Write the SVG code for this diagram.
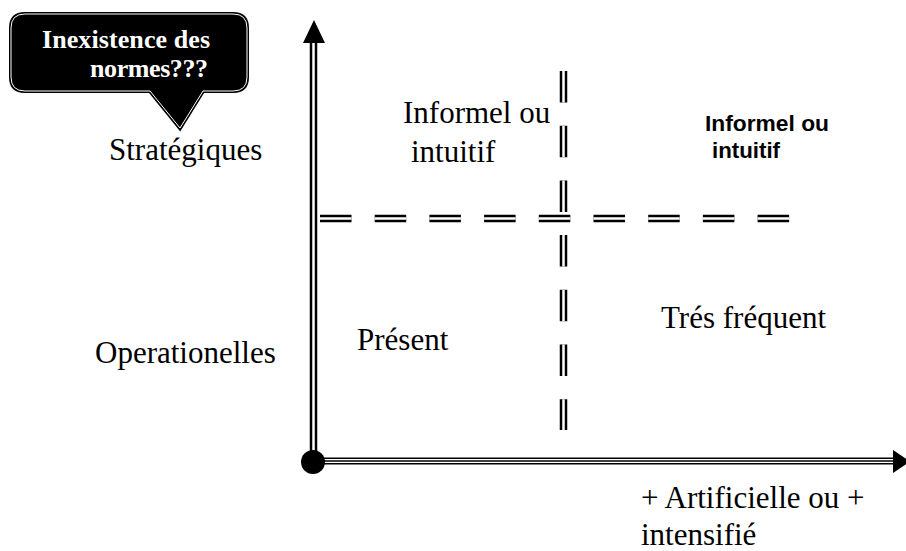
<svg xmlns="http://www.w3.org/2000/svg" width="906" height="551" viewBox="0 0 906 551">
<style>
.serif{font-family:"Liberation Serif","Times New Roman",serif;font-size:31px;fill:#000}
.callout{font-family:"Liberation Serif","Times New Roman",serif;font-size:26px;font-weight:bold;fill:#fff}
.sans{font-family:"Liberation Sans",Arial,sans-serif;font-size:22px;font-weight:bold;fill:#000}
.dblo{stroke:#000;stroke-width:7.5;fill:none}
.dbli{stroke:#fff;stroke-width:2.5;fill:none}
.dash{stroke-dasharray:31.5 23.2}
</style>
<rect width="906" height="551" fill="#fff"/>
<g id="callout">
<path d="M25,14 H233 Q247,14 247,28 V77 Q247,91 233,91 H203 L180,128 L150,91 H25 Q11,91 11,77 V28 Q11,14 25,14 Z" fill="#000" stroke="#000" stroke-width="4"/>
<path d="M25,14 H233 Q247,14 247,28 V77 Q247,91 233,91 H203 L180,128 L150,91 H25 Q11,91 11,77 V28 Q11,14 25,14 Z" fill="none" stroke="#fff" stroke-width="1"/>
<text class="callout" x="42" y="48" textLength="168" lengthAdjust="spacing">Inexistence des</text>
<text class="callout" x="90" y="77" textLength="118" lengthAdjust="spacing">normes???</text>
</g>
<g id="connectors">
<g id="dashes">
<line class="dblo dash" x1="320" y1="218.5" x2="790" y2="218.5"/>
<line class="dbli dash" x1="320" y1="218.5" x2="790" y2="218.5"/>
<line class="dblo dash" x1="563.5" y1="71" x2="563.5" y2="430"/>
<line class="dbli dash" x1="563.5" y1="71" x2="563.5" y2="430"/>
</g>
<g id="y-axis">
<line x1="313.5" y1="462" x2="313.5" y2="42" stroke="#000" stroke-width="7.5"/>
<line x1="313.5" y1="462" x2="313.5" y2="42" stroke="#fff" stroke-width="2.5"/>
<polygon points="303,43 325,43 314,20" fill="#000"/>
</g>
<g id="x-axis">
<line x1="313" y1="461" x2="894" y2="461" stroke="#000" stroke-width="7"/>
<line x1="313" y1="461" x2="894" y2="461" stroke="#fff" stroke-width="4.2"/>
<line x1="313" y1="461" x2="894" y2="461" stroke="#000" stroke-width="1.6"/>
<polygon points="893,450 893,473 910,461.5" fill="#000"/>
</g>
<circle id="origin" cx="313" cy="462" r="12" fill="#000"/>
</g>
<g id="label-strategiques"><text class="serif" x="109" y="160">Stratégiques</text></g>
<g id="label-operationelles"><text class="serif" x="95" y="363">Operationelles</text></g>
<g id="q-top-left"><text class="serif" x="403" y="123">Informel ou</text><text class="serif" x="411" y="162">intuitif</text></g>
<g id="q-top-right"><text class="sans" x="705" y="131" textLength="124" lengthAdjust="spacingAndGlyphs">Informel ou</text><text class="sans" x="712" y="158" textLength="68" lengthAdjust="spacingAndGlyphs">intuitif</text></g>
<g id="q-bottom-left"><text class="serif" x="357" y="350">Présent</text></g>
<g id="q-bottom-right"><text class="serif" x="661" y="328">Trés fréquent</text></g>
<g id="label-x"><text class="serif" x="641" y="508">+ Artificielle ou +</text><text class="serif" x="641" y="545">intensifié</text></g>
</svg>
